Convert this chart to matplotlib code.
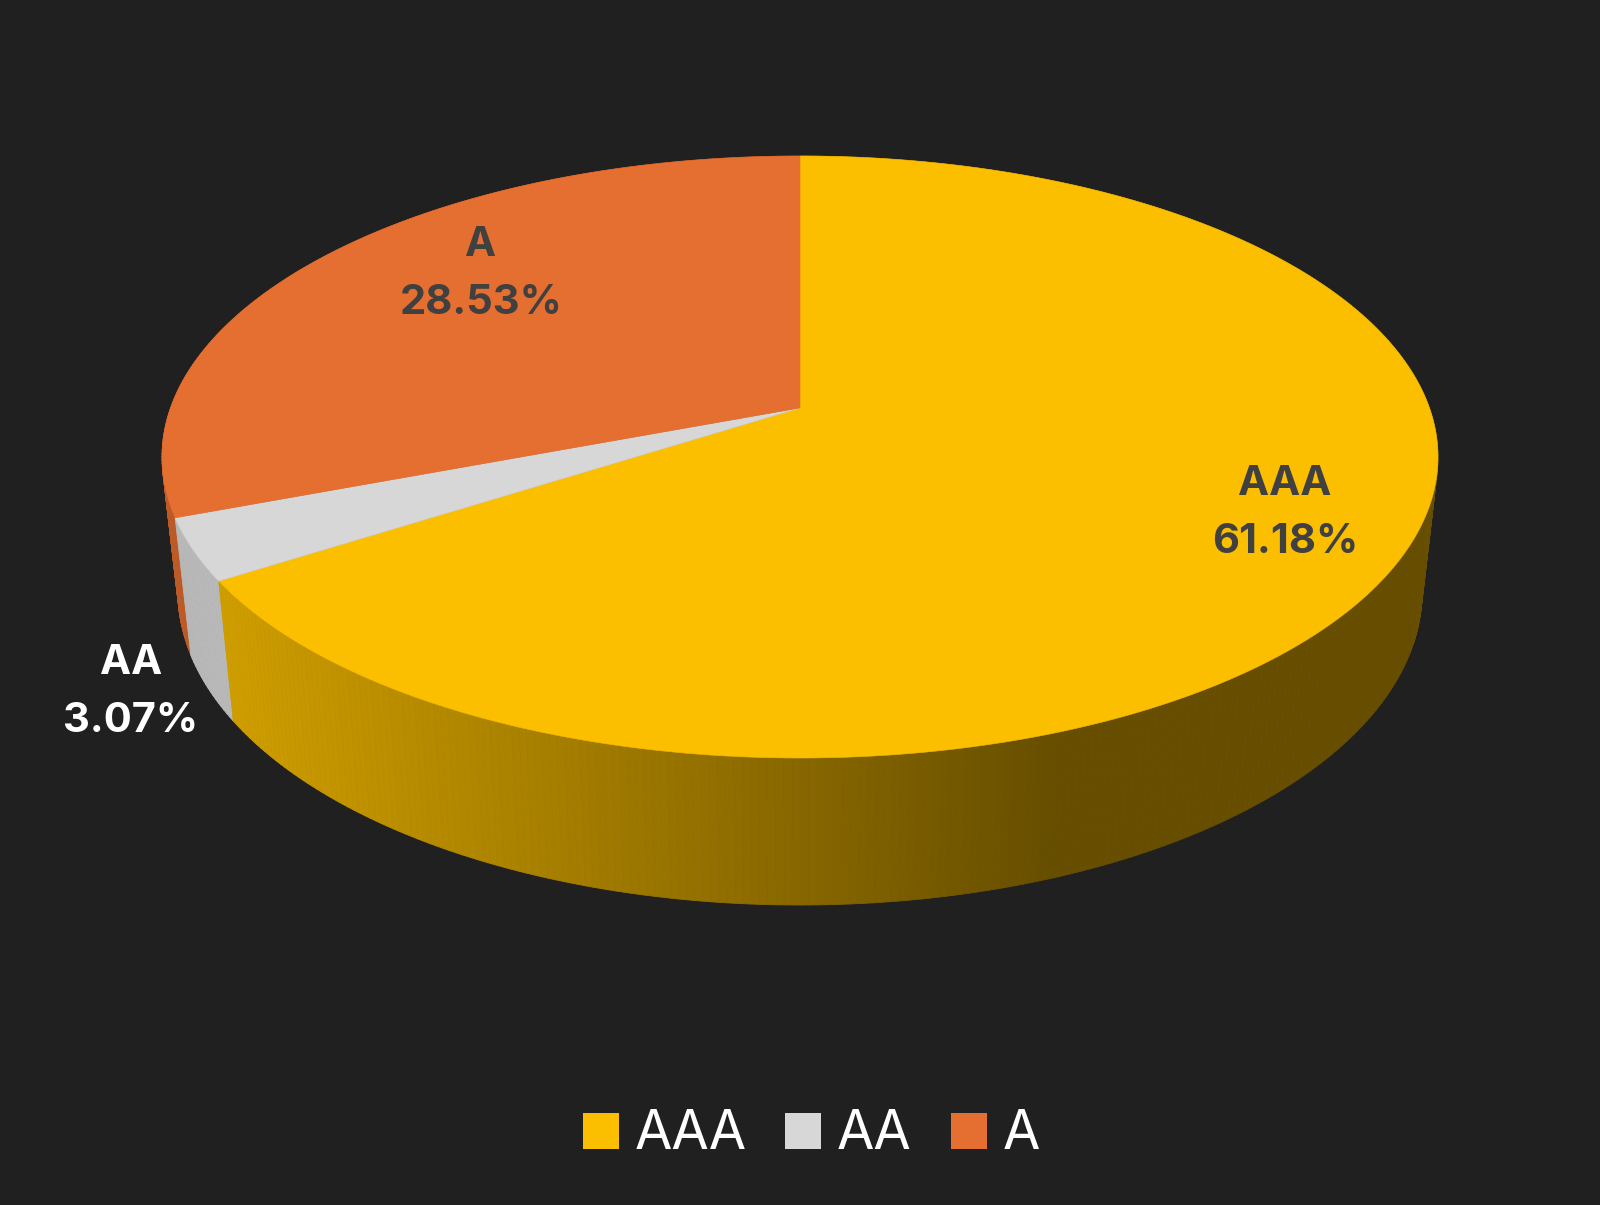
import matplotlib
matplotlib.use('Agg')
import matplotlib.pyplot as plt
import numpy as np
from matplotlib.collections import PolyCollection
from matplotlib.patches import Polygon, Rectangle

categories = ['AAA', 'AA', 'A']
percents = [61.18, 3.07, 28.53]
colors = ['#FBBF00', '#D7D7D7', '#E56F30']
label_colors = ['#404040', '#FFFFFF', '#404040']
label_pos = [(1285, 513), (131, 692), (481, 274)]

bg = '#202020'
W, H = 1600, 1205
top_disc = (800, 457, 638, 301)
bottom_disc = (800, 592, 622, 313)
tilt = 0.163


def project(theta, disc):
    # circle -> ellipse with a perspective shift of the centre
    cx, cy, rx, ry = disc
    x, y = np.sin(theta), np.cos(theta)
    d = 1 + tilt * y
    return cx + rx * x * np.sqrt(1 - tilt ** 2) / d, cy - ry * (y + tilt) / d


def wall_shade(x):
    return np.interp(x, [232, 1060], [0.82, 0.41])


plt.rcParams['font.family'] = ['Inter', 'DejaVu Sans']
fig = plt.figure(figsize=(W / 100, H / 100), dpi=100, facecolor=bg)
ax = fig.add_axes([0, 0, 1, 1])
ax.set_xlim(0, W)
ax.set_ylim(H, 0)
ax.axis('off')

edges = np.cumsum([0] + percents) / sum(percents) * 2 * np.pi

# side wall, back to front
quads, quad_colors, quad_depth = [], [], []
for i, color in enumerate(colors):
    n = max(int((edges[i + 1] - edges[i]) * 90), 6)
    t = np.linspace(edges[i], edges[i + 1], n + 1)
    xt, yt = project(t, top_disc)
    xb, yb = project(t, bottom_disc)
    base = np.array(matplotlib.colors.to_rgb(color))
    for j in range(n):
        quads.append([(xt[j], yt[j]), (xt[j + 1], yt[j + 1]), (xb[j + 1], yb[j + 1]), (xb[j], yb[j])])
        shade = wall_shade((xt[j] + xt[j + 1]) / 2)
        if categories[i] == 'AA':
            shade = 0.86
        quad_colors.append(base * shade)
        quad_depth.append((yb[j] + yb[j + 1]) / 2)
order = np.argsort(quad_depth)
ax.add_collection(PolyCollection([quads[k] for k in order],
                                 facecolors=[quad_colors[k] for k in order],
                                 edgecolors=[quad_colors[k] for k in order], linewidths=0.6))

# top face
apex = (top_disc[0], top_disc[1] - top_disc[3] * tilt)
for i, color in enumerate(colors):
    t = np.linspace(edges[i], edges[i + 1], 300)
    xt, yt = project(t, top_disc)
    pts = np.column_stack([np.r_[apex[0], xt], np.r_[apex[1], yt]])
    ax.add_patch(Polygon(pts, closed=True, facecolor=color, edgecolor=color, linewidth=0.4))

# data labels
for name, pct, col, (x, y) in zip(categories, percents, label_colors, label_pos):
    ax.text(x, y, f'{name}\n{pct:.2f}%', color=col, ha='center', va='center', fontsize=30,
            fontweight='bold', linespacing=1.65)

# legend
swatch_x = [583, 785, 951]
for name, col, x in zip(categories, colors, swatch_x):
    ax.add_patch(Rectangle((x, 1113), 36, 36, facecolor=col, edgecolor='none'))
    ax.text(x + 52, 1149, name, color='white', ha='left', va='baseline', fontsize=39)

fig.savefig('out.png', dpi=100, facecolor=bg)
